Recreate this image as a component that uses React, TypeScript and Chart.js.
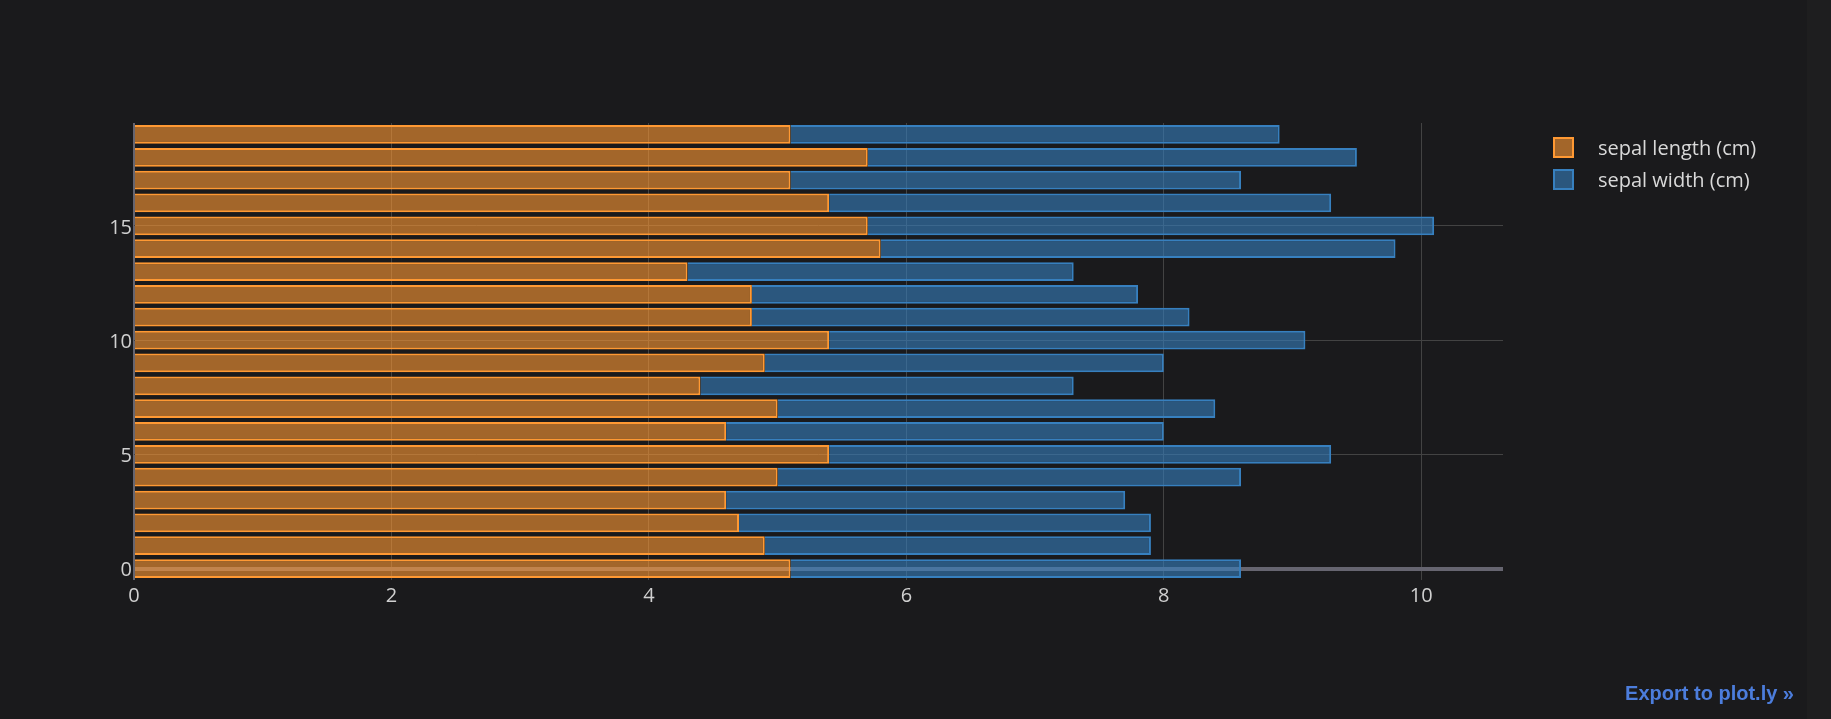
import React, { useEffect, useRef } from "react";
import { Chart, registerables } from "chart.js";

Chart.register(...registerables);

const rowIndex = [0, 1, 2, 3, 4, 5, 6, 7, 8, 9, 10, 11, 12, 13, 14, 15, 16, 17, 18, 19];
const sepalLength = [5.1, 4.9, 4.7, 4.6, 5.0, 5.4, 4.6, 5.0, 4.4, 4.9, 5.4, 4.8, 4.8, 4.3, 5.8, 5.7, 5.4, 5.1, 5.7, 5.1];
const sepalWidth = [3.5, 3.0, 3.2, 3.1, 3.6, 3.9, 3.4, 3.4, 2.9, 3.1, 3.7, 3.4, 3.0, 3.0, 4.0, 4.4, 3.9, 3.5, 3.8, 3.8];
const seriesNames = ["sepal length (cm)", "sepal width (cm)"];
const xTicks = [0, 2, 4, 6, 8, 10];
const yTicks = [0, 5, 10, 15];

const BG = "#1a1a1c";
const FONT = "'Open Sans', 'DejaVu Sans', sans-serif";
const TICK_COLOR = "#d0d0d0";

export default function App() {
  const canvasRef = useRef<HTMLCanvasElement | null>(null);

  useEffect(() => {
    document.body.style.margin = "0";
    document.body.style.background = "#1e1e1f";
    const canvas = canvasRef.current;
    if (!canvas) return;
    const chart = new Chart(canvas, {
      type: "bar",
      data: {
        datasets: [
          {
            label: seriesNames[0],
            data: rowIndex.map((i) => ({ x: sepalLength[i], y: i })),
            backgroundColor: "rgba(255,153,51,0.6)",
            borderColor: "rgba(255,153,51,1)",
            borderWidth: 2,
            barPercentage: 0.82,
            categoryPercentage: 1.0,
          },
          {
            label: seriesNames[1],
            data: rowIndex.map((i) => ({ x: sepalWidth[i], y: i })),
            backgroundColor: "rgba(55,128,191,0.6)",
            borderColor: "rgba(55,128,191,1)",
            borderWidth: 2,
            barPercentage: 0.82,
            categoryPercentage: 1.0,
          },
        ],
      },
      options: {
        indexAxis: "y",
        animation: false,
        responsive: true,
        maintainAspectRatio: false,
        layout: { padding: { left: 0, top: 123, right: 328, bottom: 0 } },
        plugins: {
          legend: { display: false },
          tooltip: { enabled: false },
        },
        scales: {
          x: {
            type: "linear",
            stacked: true,
            min: 0,
            max: 10.635,
            offset: false,
            afterBuildTicks: (axis: any) => {
              axis.ticks = xTicks.map((v) => ({ value: v }));
            },
            afterFit: (axis: any) => {
              axis.height = 139;
            },
            border: { display: false },
            grid: {
              offset: false,
              drawTicks: false,
              color: (ctx: any) => (ctx.tick && ctx.tick.value === 0 ? "#666570" : "#434343"),
              lineWidth: (ctx: any) => (ctx.tick && ctx.tick.value === 0 ? 2 : 1),
            },
            ticks: {
              color: TICK_COLOR,
              font: { family: FONT, size: 20 },
              padding: 4,
              maxRotation: 0,
              autoSkip: false,
            },
          },
          y: {
            type: "linear",
            stacked: true,
            min: -0.5,
            max: 19.5,
            offset: false,
            afterBuildTicks: (axis: any) => {
              axis.ticks = yTicks.map((v) => ({ value: v }));
            },
            afterFit: (axis: any) => {
              axis.width = 134;
            },
            border: { display: false },
            grid: {
              offset: false,
              drawTicks: false,
              color: (ctx: any) => (ctx.tick && ctx.tick.value === 0 ? "#666570" : "#434343"),
              lineWidth: (ctx: any) => (ctx.tick && ctx.tick.value === 0 ? 4 : 1),
            },
            ticks: {
              color: TICK_COLOR,
              font: { family: FONT, size: 20 },
              padding: 2,
              labelOffset: 2,
              autoSkip: false,
            },
          },
        },
      },
    });
    return () => chart.destroy();
  }, []);

  const legendItems = [
    { name: seriesNames[0], fill: "rgba(255,153,51,0.6)", stroke: "rgb(255,153,51)" },
    { name: seriesNames[1], fill: "rgba(55,128,191,0.6)", stroke: "rgb(55,128,191)" },
  ];

  return (
    <div style={{ position: "relative", width: 1807, height: 719, background: BG, overflow: "hidden" }}>
      <div style={{ position: "absolute", left: 0, top: 0, width: 1831, height: 719 }}>
        <canvas ref={canvasRef} />
      </div>
      {legendItems.map((it, k) => (
        <div
          key={it.name}
          style={{
            position: "absolute",
            left: 1553,
            top: 137 + k * 31.5,
            height: 21,
            display: "flex",
            alignItems: "center",
            fontFamily: FONT,
            fontSize: 20,
            color: "#d9d9d9",
            whiteSpace: "nowrap",
          }}
        >
          <div
            style={{
              width: 17,
              height: 17,
              background: it.fill,
              border: `2px solid ${it.stroke}`,
              marginRight: 24,
            }}
          />
          <span style={{ lineHeight: "21px" }}>{it.name}</span>
        </div>
      ))}
      <div
        style={{
          position: "absolute",
          right: 1807 - 1794,
          top: 680,
          fontFamily: "'Liberation Sans', Arial, sans-serif",
          fontWeight: "bold",
          fontSize: 20,
          lineHeight: "26px",
          color: "#4c7ddc",
          whiteSpace: "nowrap",
        }}
      >
        Export to plot.ly »
      </div>
    </div>
  );
}
